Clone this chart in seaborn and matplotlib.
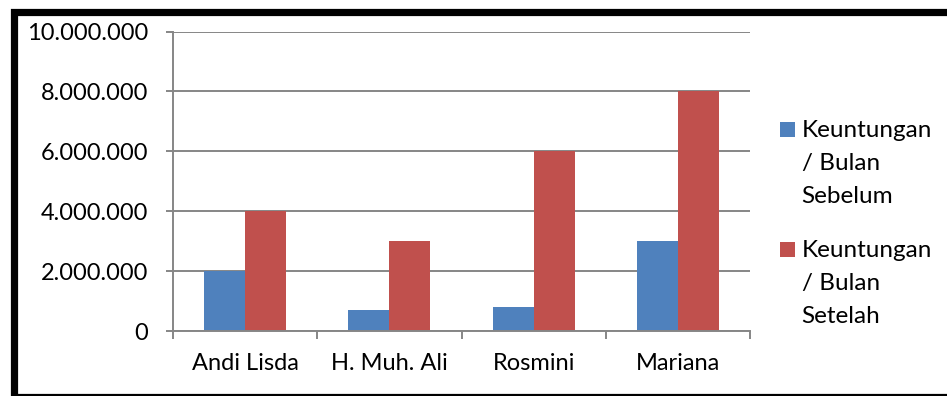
import matplotlib
matplotlib.use("Agg")
import matplotlib.pyplot as plt
import seaborn as sns
import pandas as pd
from matplotlib.patches import Rectangle
from matplotlib.ticker import FuncFormatter, FixedLocator

# ---- data ----
categories = ["Andi Lisda", "H. Muh. Ali", "Rosmini", "Mariana"]
sebelum = [2000000, 700000, 800000, 3000000]
setelah = [4000000, 3000000, 6000000, 8000000]
series_labels = ["Keuntungan / Bulan Sebelum", "Keuntungan / Bulan Setelah"]
legend_lines = [["Keuntungan", "/ Bulan", "Sebelum"],
                ["Keuntungan", "/ Bulan", "Setelah"]]
y_ticks = [0, 2000000, 4000000, 6000000, 8000000, 10000000]

colors = ["#4F81BD", "#C0504D"]
grid_color = "#868686"

df = pd.DataFrame({
    "Nama": categories * 2,
    "Nilai": sebelum + setelah,
    "Seri": [series_labels[0]] * len(categories) + [series_labels[1]] * len(categories),
})

sns.set_theme(style="white")
plt.rcParams['font.family'] = ['Lato', 'DejaVu Sans']

W, H = 947, 396
fig = plt.figure(figsize=(W / 100, H / 100), dpi=100)
fig.patch.set_facecolor("white")

def fx(px):
    return px / W

def fy(py):
    return 1 - py / H

ax = fig.add_axes([fx(173), fy(331), fx(750) - fx(173), fy(31.5) - fy(331)])
sns.barplot(data=df, x="Nama", y="Nilai", hue="Seri", palette=colors,
            width=0.57, gap=0, saturation=1, ax=ax, legend=False,
            edgecolor="none", linewidth=0)

ax.set_xlim(-0.5, len(categories) - 0.5)
ax.set_ylim(0, 10000000)
ax.yaxis.set_major_locator(FixedLocator(y_ticks))
ax.yaxis.set_major_formatter(FuncFormatter(lambda v, p: f"{int(round(v)):,}".replace(",", ".")))
ax.set_axisbelow(True)
ax.grid(axis="y", color=grid_color, linewidth=1.4)
ax.grid(axis="x", visible=False)
ax.set_xlabel("")
ax.set_ylabel("")

for s in ["top", "right"]:
    ax.spines[s].set_visible(False)
for s in ["left", "bottom"]:
    ax.spines[s].set_color(grid_color)
    ax.spines[s].set_linewidth(1.4)

ax.tick_params(axis="y", which="major", length=5, width=1.4, color=grid_color,
               pad=13, labelsize=17, labelcolor="black", left=True)
ax.tick_params(axis="x", which="major", length=0, pad=16, labelsize=17,
               labelcolor="black")
ax.xaxis.set_minor_locator(FixedLocator([i - 0.5 for i in range(len(categories) + 1)]))
ax.tick_params(axis="x", which="minor", length=6, width=1.4, color=grid_color,
               direction="out", bottom=True)

# ---- legend (manual, to match layout) ----
for i, lines in enumerate(legend_lines):
    base = 136.7 + i * 120
    fig.add_artist(Rectangle((fx(780), fy(base)), fx(794.5) - fx(780), fy(base - 14.5) - fy(base),
                             transform=fig.transFigure, facecolor=colors[i],
                             edgecolor="none"))
    for j, t in enumerate(lines):
        fig.text(fx(801.5), fy(base + 33 * j), t, fontsize=17.5, color="black",
                 ha="left", va="baseline")

# ---- outer frame ----
fig.add_artist(Rectangle((fx(13.5), fy(396.5)), fx(955) - fx(13.5), fy(11.5) - fy(396.5),
                         transform=fig.transFigure, fill=False, edgecolor="black",
                         linewidth=5.2, clip_on=False))

fig.savefig("out.png", dpi=100)
